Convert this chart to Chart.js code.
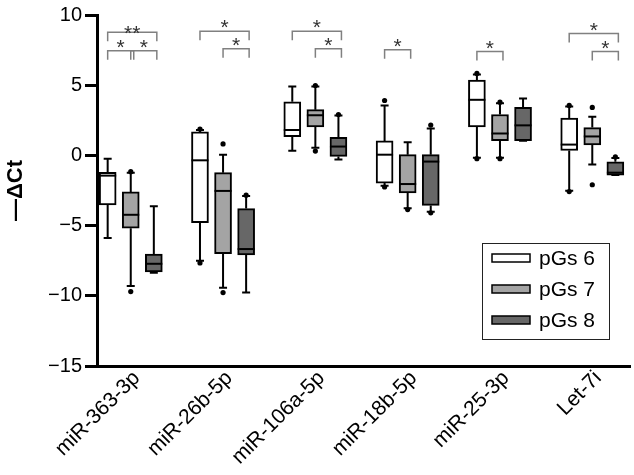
<!DOCTYPE html>
<html>
<head>
<meta charset="utf-8">
<script src="https://cdn.jsdelivr.net/npm/chart.js@4.4.1/dist/chart.umd.min.js"></script>
<style>
  body { margin: 0; background: #fff; }
  #wrap { width: 634px; height: 475px; }
</style>
</head>
<body>
<div id="wrap"><canvas id="myChart"></canvas></div>
<script>
const categories = ['miR-363-3p', 'miR-26b-5p', 'miR-106a-5p', 'miR-18b-5p', 'miR-25-3p', 'Let-7i'];
const groups = ['pGs 6', 'pGs 7', 'pGs 8'];

// pGs 6
const pgs6Min = [-5.88, -7.51, 0.33, -2.16, -0.16, -2.51];
const pgs6Q1 = [-3.53, -4.79, 1.33, -1.97, 2.02, 0.35];
const pgs6Median = [-1.44, -0.35, 1.81, 0.05, 3.96, 0.77];
const pgs6Q3 = [-1.2, 1.67, 3.82, 1.03, 5.37, 2.65];
const pgs6Max = [-0.24, 1.81, 4.91, 3.56, 5.77, 3.49];
const pgs6Outliers = [[], [1.88, -7.66], [], [3.91, -2.25], [5.84, -0.23], [3.56, -2.58]];

// pGs 7
const pgs7Min = [-9.3, -9.42, 0.54, -3.77, -0.16, -0.65];
const pgs7Q1 = [-5.18, -7.0, 2.02, -2.67, 1.05, 0.75];
const pgs7Median = [-4.23, -2.53, 2.86, -2.04, 1.56, 1.35];
const pgs7Q3 = [-2.6, -1.23, 3.26, 0.05, 2.91, 1.98];
const pgs7Max = [-1.23, 0.05, 4.91, 0.94, 3.72, 2.75];
const pgs7Outliers = [[-1.16, -9.7], [0.82, -9.77], [4.98, 0.31], [-3.86], [3.79, -0.23], [3.42, -2.09]];

// pGs 8
const pgs8Min = [-8.35, -9.77, -0.3, -4.02, 1.05, -1.4];
const pgs8Q1 = [-8.3, -7.09, -0.07, -3.56, 1.05, -1.4];
const pgs8Median = [-7.72, -6.67, 0.63, -0.44, 2.14, -1.23];
const pgs8Q3 = [-7.02, -3.79, 1.28, 0.05, 3.42, -0.46];
const pgs8Max = [-3.63, -2.9, 2.84, 1.91, 4.05, -0.18];
const pgs8Outliers = [[], [-2.83], [2.91], [2.16, -4.09], [], [-0.11]];

// significance brackets: category, first box, second box, height, label
const bracketCat = [0, 0, 0, 1, 1, 2, 2, 3, 4, 5, 5];
const bracketFrom = [0, 0, 1, 0, 1, 0, 1, 0, 0, 0, 1];
const bracketTo = [2, 1, 2, 2, 2, 2, 2, 1, 1, 2, 2];
const bracketY = [8.77, 7.45, 7.45, 8.84, 7.6, 8.84, 7.6, 7.52, 7.4, 8.68, 7.4];
const bracketLabel = ['**', '*', '*', '*', '*', '*', '*', '*', '*', '*', '*'];

const mins = [pgs6Min, pgs7Min, pgs8Min];
const q1s = [pgs6Q1, pgs7Q1, pgs8Q1];
const medians = [pgs6Median, pgs7Median, pgs8Median];
const q3s = [pgs6Q3, pgs7Q3, pgs8Q3];
const maxs = [pgs6Max, pgs7Max, pgs8Max];
const outliers = [pgs6Outliers, pgs7Outliers, pgs8Outliers];

const fills = ['#ffffff', '#a4a4a4', '#676767'];
const boxOffset = [-0.25, 0, 0.25];
const fontFamily = "'Liberation Sans', Arial, sans-serif";

const boxDatasets = groups.map((g, d) => ({
    type: 'bar',
    label: g,
    data: categories.map((c, i) => ({ x: i + boxOffset[d], y: [q1s[d][i], q3s[d][i]] })),
    backgroundColor: fills[d],
    borderColor: '#000',
    borderWidth: 2,
    borderSkipped: false,
    barThickness: 17,
    grouped: false,
    order: 1
}));

const outlierPoints = [];
groups.forEach((g, d) => {
    categories.forEach((c, i) => {
        outliers[d][i].forEach(v => outlierPoints.push({ x: i + boxOffset[d], y: v }));
    });
});

const boxExtras = {
    id: 'boxExtras',
    beforeDatasetsDraw(chart) {
        // whiskers + caps
        const { ctx, scales: { x, y } } = chart;
        ctx.save();
        ctx.strokeStyle = '#000';
        ctx.lineWidth = 2;
        groups.forEach((g, d) => {
            categories.forEach((c, i) => {
                const px = x.getPixelForValue(i + boxOffset[d]);
                const yMax = y.getPixelForValue(maxs[d][i]);
                const yMin = y.getPixelForValue(mins[d][i]);
                ctx.beginPath();
                ctx.moveTo(px, yMax);
                ctx.lineTo(px, y.getPixelForValue(q3s[d][i]));
                ctx.moveTo(px, y.getPixelForValue(q1s[d][i]));
                ctx.lineTo(px, yMin);
                ctx.moveTo(px - 4, yMax);
                ctx.lineTo(px + 4, yMax);
                ctx.moveTo(px - 4, yMin);
                ctx.lineTo(px + 4, yMin);
                ctx.stroke();
            });
        });
        ctx.restore();
    },
    afterDatasetsDraw(chart) {
        const { ctx, scales: { x, y } } = chart;
        ctx.save();
        // medians (box datasets come after the outlier dataset)
        ctx.strokeStyle = '#000';
        ctx.lineWidth = 2;
        groups.forEach((g, d) => {
            const meta = chart.getDatasetMeta(d + 1);
            categories.forEach((c, i) => {
                const bar = meta.data[i];
                const py = y.getPixelForValue(medians[d][i]);
                ctx.beginPath();
                ctx.moveTo(bar.x - bar.width / 2, py);
                ctx.lineTo(bar.x + bar.width / 2, py);
                ctx.stroke();
            });
        });
        // brackets
        ctx.strokeStyle = '#808080';
        ctx.lineWidth = 1.5;
        ctx.fillStyle = '#333';
        ctx.font = '21px ' + fontFamily;
        ctx.textAlign = 'center';
        ctx.textBaseline = 'alphabetic';
        bracketCat.forEach((cat, k) => {
            const x1 = x.getPixelForValue(cat + boxOffset[bracketFrom[k]]);
            const x2 = x.getPixelForValue(cat + boxOffset[bracketTo[k]]) + 3;
            const by = y.getPixelForValue(bracketY[k]);
            ctx.beginPath();
            ctx.moveTo(x1, by + 9);
            ctx.lineTo(x1, by);
            ctx.lineTo(x2, by);
            ctx.lineTo(x2, by + 9);
            ctx.stroke();
            const sy = bracketLabel[k] === '**' ? by - 4 : by - 9;
            ctx.fillText(bracketLabel[k], (x1 + x2) / 2, sy + 12);
        });
        ctx.restore();
    },
    afterDraw(chart) {
        // legend box
        const { ctx, chartArea } = chart;
        const left = chartArea.right - 148;
        const top = chartArea.bottom - 123;
        ctx.save();
        ctx.strokeStyle = '#222';
        ctx.lineWidth = 1;
        ctx.strokeRect(left + 0.5, top + 0.5, 127, 96);
        ctx.font = '21px ' + fontFamily;
        ctx.textBaseline = 'middle';
        ctx.textAlign = 'left';
        groups.forEach((g, d) => {
            const cy = top + 15 + d * 31;
            ctx.fillStyle = fills[d];
            ctx.fillRect(left + 10, cy - 4, 38, 8);
            ctx.strokeStyle = '#000';
            ctx.lineWidth = 1.5;
            ctx.strokeRect(left + 10, cy - 4, 38, 8);
            ctx.fillStyle = '#000';
            ctx.fillText(g, left + 57, cy + 1);
        });
        ctx.restore();
    }
};

const ctx = document.getElementById('myChart');

new Chart(ctx, {
    type: 'bar',
    data: {
        datasets: [
            {
                type: 'scatter',
                label: 'outliers',
                data: outlierPoints,
                pointRadius: 2.6,
                pointBackgroundColor: '#000',
                pointBorderWidth: 0,
                showLine: false,
                order: -1
            },
            ...boxDatasets
        ]
    },
    options: {
        responsive: true,
        maintainAspectRatio: false,
        animation: false,
        layout: { padding: { top: 8, right: 0, bottom: 0, left: 0 } },
        plugins: {
            legend: { display: false },
            tooltip: { enabled: false }
        },
        scales: {
            x: {
                type: 'linear',
                offset: false,
                min: -0.3656,
                max: 5.4086,
                afterBuildTicks: (scale) => {
                    scale.ticks = categories.map((c, i) => ({ value: i }));
                },
                afterFit: (scale) => { scale.height = 109; },
                ticks: {
                    autoSkip: false,
                    minRotation: 45,
                    maxRotation: 45,
                    padding: 0,
                    labelOffset: 6,
                    color: '#000',
                    font: { family: fontFamily, size: 21 },
                    callback: (v) => categories[v]
                },
                grid: { display: false, drawTicks: false, offset: false },
                border: { color: '#000', width: 3 }
            },
            y: {
                min: -15,
                max: 10,
                afterFit: (scale) => { scale.width = 97; },
                ticks: {
                    stepSize: 5,
                    padding: 3,
                    color: '#000',
                    font: { family: fontFamily, size: 20 },
                    callback: (v) => String(v).replace('-', '\u2212')
                },
                grid: { drawOnChartArea: false, tickLength: 12, tickWidth: 3, color: '#000' },
                border: { color: '#000', width: 3 },
                title: {
                    display: true,
                    text: '\u2014\u0394Ct',
                    color: '#000',
                    font: { family: fontFamily, size: 22, weight: 'bold' },
                    padding: { top: 3, bottom: 0 }
                }
            }
        }
    },
    plugins: [boxExtras]
});
</script>
</body>
</html>
